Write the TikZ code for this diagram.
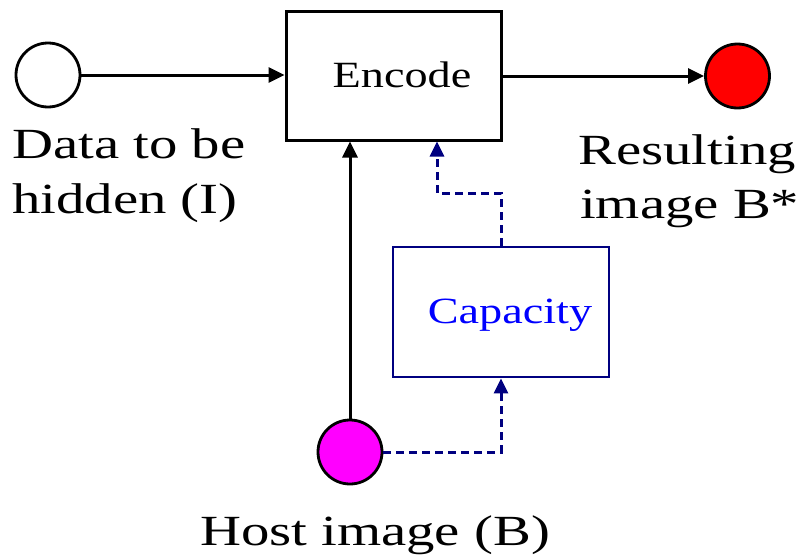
\documentclass[tikz,border=0pt]{standalone}
\usepackage{fontspec}
\setmainfont{Liberation Serif}
\newfontfamily\lblfont[FakeStretch=1.32]{Liberation Serif}
\newfontfamily\boxfont[FakeStretch=1.25]{Liberation Serif}
\usetikzlibrary{arrows.meta}
\definecolor{navyline}{RGB}{0,0,128}
\definecolor{capblue}{RGB}{0,0,255}
\definecolor{magentafill}{RGB}{255,0,255}
\definecolor{redfill}{RGB}{255,0,0}
\begin{document}
\begin{tikzpicture}[x=1pt,y=-1pt,
  lbl/.style={font=\lblfont\fontsize{43}{51}\selectfont, inner sep=0pt},
  boxtxt/.style={font=\boxfont\fontsize{37}{44}\selectfont, inner sep=0pt},
  blk/.style={draw=black, line width=3pt, minimum width=215pt, minimum height=129pt, inner sep=0pt},
  capbox/.style={draw=navyline, line width=2.8pt, minimum width=216pt, minimum height=130pt, inner sep=0pt},
  dot/.style={circle, draw=black, line width=2.8pt, minimum size=64pt, inner sep=0pt},
  arr/.style={line width=3pt, -{Triangle[length=16pt,width=15pt]}},
  darr/.style={line width=3pt, draw=navyline, dash pattern=on 8pt off 5pt, -{Triangle[length=15pt,width=14pt]}, navyline}
]
\useasboundingbox (0,0) rectangle (807,557);
% nodes
\node[blk] (enc) at (393.5,75.5) {};
\node[boxtxt, anchor=base] (enctxt) at (402,87) {Encode};
\node[capbox] (cap) at (501,312) {};
\node[boxtxt, anchor=base, text=capblue] (captxt) at (510,323) {Capacity};
\node[dot, fill=white] (in) at (48,75) {};
\node[dot, fill=redfill] (out) at (737.5,76) {};
\node[dot, fill=magentafill] (host) at (350,452) {};
% labels
\node[lbl, anchor=base west] (l1) at (12,158) {Data to be};
\node[lbl, anchor=base west] (l2) at (12,213) {hidden (I)};
\node[lbl, anchor=base west] (r1) at (578,164) {Resulting};
\node[lbl, anchor=base west] (r2) at (580,218) {image B*};
\node[lbl, anchor=base] (hl) at (375,545) {Host image (B)};
% connectors
\draw[arr] (in.east) -- (enc.west |- in.east);
\draw[arr] (enc.east |- out.west) -- (out.west);
\draw[arr] (host.north) -- (host.north |- enc.south);
\coordinate (k) at (437,193);
\draw[darr] (host.east) -| (cap.south);
\draw[darr] (cap.north) |- (k) -- (k |- enc.south);
\end{tikzpicture}
\end{document}
